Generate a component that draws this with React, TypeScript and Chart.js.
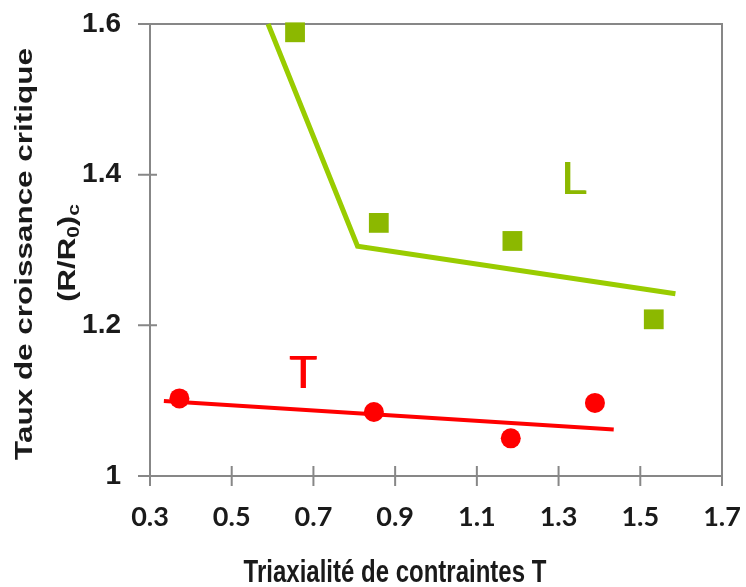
import React, { useEffect, useRef } from 'react';
import { Chart, registerables } from 'chart.js';

Chart.register(...registerables);

// ---- Data ----
const L_X = [0.655, 0.86, 1.187, 1.533];
const L_Y = [1.589, 1.336, 1.312, 1.208];
const T_X = [0.372, 0.848, 1.183, 1.389];
const T_Y = [1.103, 1.085, 1.05, 1.097];

const L_FIT_X = [0.589, 0.808, 1.586];
const L_FIT_Y = [1.6, 1.305, 1.242];
const T_FIT_X = [0.334, 1.435];
const T_FIT_Y = [1.0995, 1.0616];

const X_TICKS = [0.3, 0.5, 0.7, 0.9, 1.1, 1.3, 1.5, 1.7];
const X_TICK_LABELS = ['0.3', '0.5', '0.7', '0.9', '1.1', '1.3', '1.5', '1.7'];
const Y_TICKS = [1, 1.2, 1.4, 1.6];
const Y_TICK_LABELS = ['1', '1.2', '1.4', '1.6'];

const SERIES_LABELS = ['L', 'T'];
const SERIES_LABEL_X = [1.338, 0.674];
const SERIES_LABEL_Y = [1.391, 1.134];

const X_TITLE = 'Triaxialité de contraintes T';
const Y_TITLE_1 = 'Taux de croissance critique';
const Y_TITLE_2 = ['(R/R', '0', ')', 'c'];

const GREEN_POINT = '#8CB800';
const GREEN_LINE = '#99CC00';
const RED = '#FF0000';
const TEXT = '#1a1a1a';
const FRAME = '#878787';

const toXY = (xs: number[], ys: number[]) => xs.map((x, i) => ({ x, y: ys[i] }));

const zeroPad = (s: any) => {
  s.paddingTop = 0;
  s.paddingBottom = 0;
  s.paddingLeft = 0;
  s.paddingRight = 0;
};

const decorPlugin = {
  id: 'decor',
  beforeDatasetsDraw(chart: any) {
    const { ctx, chartArea } = chart;
    const xs = chart.scales.x;
    const ys = chart.scales.y;
    ctx.save();
    ctx.strokeStyle = FRAME;
    ctx.lineWidth = 2;
    ctx.strokeRect(chartArea.left, chartArea.top, chartArea.right - chartArea.left, chartArea.bottom - chartArea.top);
    ctx.beginPath();
    Y_TICKS.forEach((v) => {
      const py = ys.getPixelForValue(v);
      ctx.moveTo(chartArea.left - 12, py);
      ctx.lineTo(chartArea.left + 7, py);
    });
    X_TICKS.forEach((v) => {
      const px = xs.getPixelForValue(v);
      ctx.moveTo(px, chartArea.bottom - 10);
      ctx.lineTo(px, chartArea.bottom + 10);
    });
    ctx.stroke();
    ctx.restore();
  },
  afterDatasetsDraw(chart: any) {
    const { ctx } = chart;
    const xs = chart.scales.x;
    const ys = chart.scales.y;
    ctx.save();
    // Series labels
    ctx.font = '46px "Liberation Sans", Arial, sans-serif';
    ctx.textAlign = 'center';
    ctx.textBaseline = 'middle';
    const colors = [GREEN_POINT, RED];
    SERIES_LABELS.forEach((s, i) => {
      ctx.fillStyle = colors[i];
      const px = xs.getPixelForValue(SERIES_LABEL_X[i]);
      const py = ys.getPixelForValue(SERIES_LABEL_Y[i]);
      ctx.fillText(s, px, py);
      ctx.fillText(s, px + 1, py);
    });

    // X title (vertically stretched as in reference)
    ctx.fillStyle = TEXT;
    ctx.font = 'bold 24px "Liberation Sans", Arial, sans-serif';
    ctx.textAlign = 'center';
    ctx.textBaseline = 'alphabetic';
    ctx.save();
    ctx.translate(395, 582);
    ctx.scale(1, 1.3);
    ctx.fillText(X_TITLE, 0, 0);
    ctx.restore();

    // Y title line 1
    ctx.save();
    ctx.translate(32, 254);
    ctx.rotate(-Math.PI / 2);
    ctx.scale(1.31, 1);
    ctx.fillText(Y_TITLE_1, 0, 0);
    ctx.restore();

    // Y title line 2 with subscripts
    ctx.save();
    ctx.translate(75, 253);
    ctx.rotate(-Math.PI / 2);
    ctx.scale(1.3, 1);
    const big = 'bold 24px "Liberation Sans", Arial, sans-serif';
    const small = 'bold 16px "Liberation Sans", Arial, sans-serif';
    const parts = Y_TITLE_2.map((t, i) => ({ t, sub: i % 2 === 1 }));
    let total = 0;
    parts.forEach((p) => {
      ctx.font = p.sub ? small : big;
      total += ctx.measureText(p.t).width;
    });
    let cx = -total / 2;
    ctx.textAlign = 'left';
    parts.forEach((p) => {
      ctx.font = p.sub ? small : big;
      ctx.fillText(p.t, cx, p.sub ? 4 : 0);
      cx += ctx.measureText(p.t).width;
    });
    ctx.restore();

    ctx.restore();
  },
};

export default function App() {
  const ref = useRef<HTMLCanvasElement>(null);
  useEffect(() => {
    document.body.style.margin = '0';
    const canvas = ref.current!;
    const chart = new Chart(canvas, {
      type: 'scatter',
      data: {
        datasets: [
          {
            data: toXY(T_X, T_Y),
            backgroundColor: RED,
            borderColor: RED,
            pointStyle: 'circle',
            pointRadius: 10,
            borderWidth: 0,
            showLine: false,
            clip: false,
          },
          {
            data: toXY(L_X, L_Y),
            backgroundColor: GREEN_POINT,
            borderColor: GREEN_POINT,
            pointStyle: 'rect',
            pointRadius: 14,
            borderWidth: 0,
            showLine: false,
            clip: false,
          },
          {
            data: toXY(T_FIT_X, T_FIT_Y),
            borderColor: RED,
            borderWidth: 4,
            pointRadius: 0,
            showLine: true,
            clip: false,
          },
          {
            data: toXY(L_FIT_X, L_FIT_Y),
            borderColor: GREEN_LINE,
            borderWidth: 5,
            pointRadius: 0,
            showLine: true,
            clip: false,
          },
        ] as any,
      },
      options: {
        animation: false,
        responsive: false,
        events: [],
        layout: { padding: { top: 24, right: 24, left: 0, bottom: 0 } },
        plugins: { legend: { display: false }, tooltip: { enabled: false } },
        scales: {
          x: {
            type: 'linear',
            min: 0.3,
            max: 1.7,
            afterBuildTicks: (s: any) => {
              s.ticks = X_TICKS.map((v) => ({ value: v }));
            },
            afterFit: (s: any) => {
              s.height = 111;
              zeroPad(s);
            },
            grid: { display: false, drawTicks: false },
            border: { display: false },
            ticks: {
              autoSkip: false,
              maxRotation: 0,
              padding: 25,
              color: TEXT,
              font: { family: 'Lato, "Liberation Sans", sans-serif', size: 27, weight: 'bold' },
              callback: (_v: any, i: number) => X_TICK_LABELS[i],
            },
          },
          y: {
            type: 'linear',
            min: 1,
            max: 1.6,
            afterBuildTicks: (s: any) => {
              s.ticks = Y_TICKS.map((v) => ({ value: v }));
            },
            afterFit: (s: any) => {
              s.width = 150;
              zeroPad(s);
            },
            grid: { display: false, drawTicks: false },
            border: { display: false },
            ticks: {
              autoSkip: false,
              padding: 29,
              color: TEXT,
              font: { family: '"Liberation Sans", Arial, sans-serif', size: 28, weight: 'bold' },
              callback: (_v: any, i: number) => Y_TICK_LABELS[i],
            },
          },
        },
      },
      plugins: [decorPlugin],
    });
    return () => chart.destroy();
  }, []);
  return (
    <div style={{ width: 746, height: 587, background: '#fff' }}>
      <canvas ref={ref} width={746} height={587} style={{ display: 'block' }} />
    </div>
  );
}
